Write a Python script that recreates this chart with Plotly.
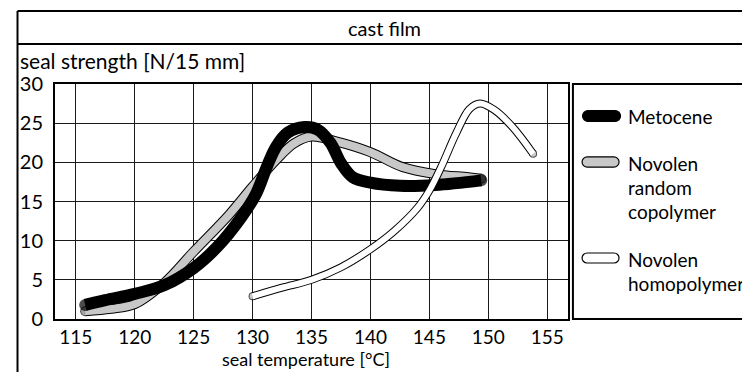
import plotly.graph_objects as go

# ---------------- data ----------------
metocene_x = [115.8, 117.5, 120, 122.5, 125, 127, 129, 130.3, 131.2, 132, 133, 134.4, 135.5, 136.6, 137.5, 138.5, 140, 142.5, 145.5, 149.4]
metocene_y = [1.8, 2.4, 3.2, 4.3, 6.5, 9.2, 12.9, 16.0, 19.4, 22.0, 23.8, 24.5, 24.2, 22.5, 19.9, 18.1, 17.4, 17.0, 17.1, 17.7]

random_x = [115.8, 118, 120, 122.5, 125, 128, 130, 132, 133.5, 135, 137, 140, 142.7, 145.5, 148.3, 149.4]
random_y = [1.0, 1.3, 1.9, 4.6, 8.6, 13.3, 16.9, 20.3, 22.4, 23.3, 22.7, 21.3, 19.4, 18.5, 18.1, 17.9]

homo_x = [130, 132.5, 135, 137.5, 140, 142, 144, 145, 146, 147.3, 148.4, 149.3, 150.5, 152, 153.8]
homo_y = [2.9, 4.0, 5.0, 6.6, 8.9, 11.2, 14.2, 16.4, 19.4, 23.8, 26.8, 27.5, 26.7, 24.6, 21.1]

x_ticks = [115, 120, 125, 130, 135, 140, 145, 150, 155]
y_ticks = [0, 5, 10, 15, 20, 25, 30]

title_text = "cast film"
y_title = "seal strength [N/15 mm]"
x_title = "seal temperature [°C]"
legend_names = ["Metocene", "Novolen random copolymer", "Novolen homopolymer"]

# ---------------- layout geometry ----------------
OFF = 8                      # page body margin of the html page
W, H = 750 - OFF, 372 - OFF
L, R, T, B = 48, 568, 84, 319  # plot area in window pixels
FONT = "Lato"


def px(x):
    return (x - L) / (R - L)


def py(y):
    return (B - y) / (B - T)


def end_sizes(n, s):
    return [s] + [0] * (n - 2) + [s]


fig = go.Figure()


def band(xs, ys, outer, inner, fill, name):
    n = len(xs)
    fig.add_trace(go.Scatter(
        x=xs, y=ys, mode="lines+markers", name=name, showlegend=False,
        line=dict(color="black", width=outer, shape="spline", smoothing=1.0),
        marker=dict(color="black", size=end_sizes(n, outer), line=dict(width=0)),
        hoverinfo="skip"))
    if inner:
        fig.add_trace(go.Scatter(
            x=xs, y=ys, mode="lines+markers", name=name, showlegend=False,
            line=dict(color=fill, width=inner, shape="spline", smoothing=1.0),
            marker=dict(color=fill, size=end_sizes(n, inner), line=dict(width=0)),
            hoverinfo="skip"))


band(random_x, random_y, 10, 8, "#c8c8c8", legend_names[1])
band(metocene_x, metocene_y, 12, 0, "black", legend_names[0])
band(homo_x, homo_y, 8, 6, "white", legend_names[2])

ann = []


def text(x, y, s, size=19, xanchor="left"):
    ann.append(dict(x=px(x), y=py(y), xref="paper", yref="paper", text=s,
                    showarrow=False, xanchor=xanchor, yanchor="middle",
                    font=dict(family=FONT, size=size, color="black")))


text(382, 28, title_text, 20, "center")
text(11, 61, y_title, 21)
text(302, 359, x_title, 18, "center")

text(627, 116, "Metocene")
for s, y in zip(["Novolen", "random", "copolymer"], [163, 187, 211]):
    text(627, y, s)
for s, y in zip(["Novolen", "homopolymer"], [259, 283]):
    text(627, y, s)

shapes = []


def hline(x0, x1, y, w=2):
    shapes.append(dict(type="line", xref="paper", yref="paper", x0=px(x0), x1=px(x1),
                       y0=py(y), y1=py(y), line=dict(color="black", width=w)))


def vline(x, y0, y1, w=2):
    shapes.append(dict(type="line", xref="paper", yref="paper", x0=px(x), x1=px(x),
                       y0=py(y0), y1=py(y1), line=dict(color="black", width=w)))


hline(10, 760, 11)
hline(10, 760, 44)
vline(10, 11, 380)
shapes.append(dict(type="rect", xref="paper", yref="paper", x0=px(573), x1=px(770),
                   y0=py(319), y1=py(84), line=dict(color="black", width=2)))


def pill(cx, cy, a, r, fill, outline_w=1.2):
    s = a - r
    k = 0.5523 * r
    path = (f"M {-s},{r} L {s},{r} C {s + k},{r} {a},{k} {a},0 "
            f"C {a},{-k} {s + k},{-r} {s},{-r} L {-s},{-r} "
            f"C {-s - k},{-r} {-a},{-k} {-a},0 C {-a},{k} {-s - k},{r} {-s},{r} Z")
    shapes.append(dict(type="path", xref="paper", yref="paper",
                       xsizemode="pixel", ysizemode="pixel",
                       xanchor=px(cx), yanchor=py(cy), path=path,
                       fillcolor=fill, line=dict(color="black", width=outline_w)))


pill(602, 116, 19, 5.5, "black")
pill(601, 162, 18.5, 5.2, "#c8c8c8")
pill(601, 258, 18.5, 5.0, "white")

axis_common = dict(showline=True, linecolor="black", linewidth=2, mirror=True,
                   showgrid=True, gridcolor="#1a1a1a", gridwidth=1, zeroline=False,
                   ticks="")

fig.update_layout(
    width=W, height=H,
    margin=dict(l=L - OFF, r=750 - R, t=T - OFF, b=372 - B, pad=0),
    paper_bgcolor="white", plot_bgcolor="white",
    xaxis=dict(range=[113.24, 156.76], tickvals=x_ticks, ticktext=[str(v) for v in x_ticks],
               tickfont=dict(family=FONT, size=19, color="black"), **axis_common),
    yaxis=dict(range=[0, 30], tickvals=y_ticks, ticktext=[str(v) for v in y_ticks],
               ticklabelstandoff=6, tickfont=dict(family=FONT, size=20, color="black"),
               **axis_common),
    annotations=ann, shapes=shapes, showlegend=False,
)

fig.write_html("out.html")
